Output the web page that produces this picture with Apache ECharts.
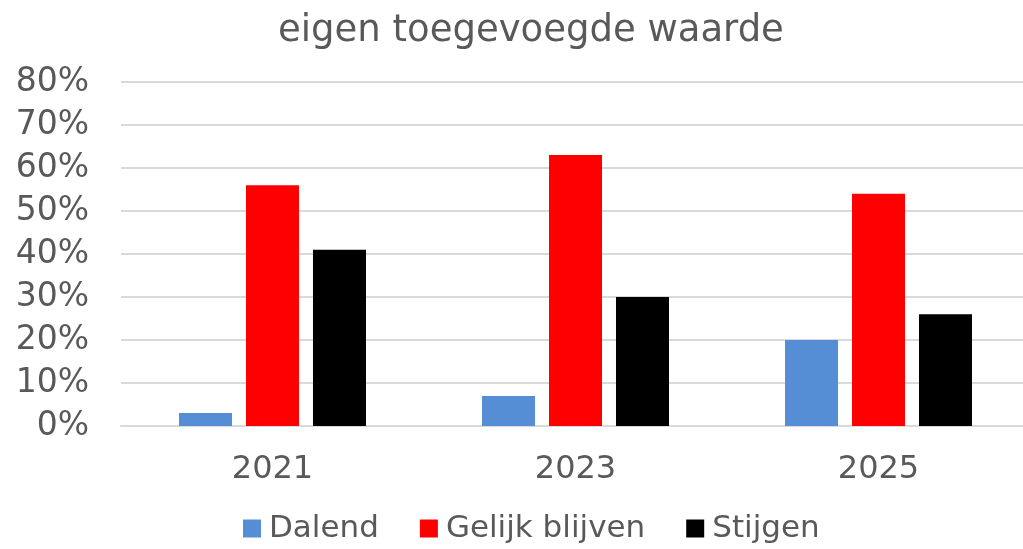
<!DOCTYPE html>
<html>
<head>
<meta charset="utf-8">
<script src="https://cdn.jsdelivr.net/npm/echarts@6/dist/echarts.min.js"></script>
<style>html,body{margin:0;padding:0;background:#fff;overflow:hidden}#c{width:1031px;height:549px}</style>
</head>
<body>
<div id="c"></div>
<script>
const categories = ['2021', '2023', '2025'];
const dalend = [3, 7, 20];
const gelijkBlijven = [56, 63, 54];
const stijgen = [41, 30, 26];
const yTicks = [0, 10, 20, 30, 40, 50, 60, 70, 80];

const FONT = '"DejaVu Sans", Verdana, sans-serif';
const TXT = '#595959';
const chart = echarts.init(document.getElementById('c'), null, {renderer: 'canvas'});
chart.setOption({
  animation: false,
  backgroundColor: '#fff',
  title: {
    text: 'eigen toegevoegde waarde', left: 273, top: 8,
    textStyle: {fontFamily: FONT, fontSize: 37, fontWeight: 'normal', color: TXT}
  },
  legend: {
    bottom: 0, left: 238, itemWidth: 18, itemHeight: 18, itemGap: 41,
    icon: 'rect',
    textStyle: {fontFamily: FONT, fontSize: 31, color: TXT, padding: [0, 0, 0, 3]},
    data: ['Dalend', 'Gelijk blijven', 'Stijgen']
  },
  grid: {left: 121, right: 1, top: 82, bottom: 123, containLabel: false},
  xAxis: {
    type: 'category', data: categories,
    axisLine: {lineStyle: {color: '#d9d9d9', width: 2}},
    axisTick: {show: false},
    axisLabel: {fontFamily: FONT, fontSize: 32, color: TXT, margin: 28}
  },
  yAxis: {
    type: 'value', min: yTicks[0], max: yTicks[yTicks.length - 1], interval: 10,
    axisLine: {show: false}, axisTick: {show: false},
    splitLine: {lineStyle: {color: '#d9d9d9', width: 2}},
    axisLabel: {fontFamily: FONT, fontSize: 33, color: TXT, margin: 32, formatter: '{value}%'}
  },
  series: [
    {name: 'Dalend', type: 'bar', data: dalend, barWidth: 53, barGap: '26.4%', itemStyle: {color: '#558ED5'}},
    {name: 'Gelijk blijven', type: 'bar', data: gelijkBlijven, barWidth: 53, barGap: '26.4%', itemStyle: {color: '#FF0000'}},
    {name: 'Stijgen', type: 'bar', data: stijgen, barWidth: 53, barGap: '26.4%', itemStyle: {color: '#000000'}}
  ]
});
</script>
</body>
</html>
